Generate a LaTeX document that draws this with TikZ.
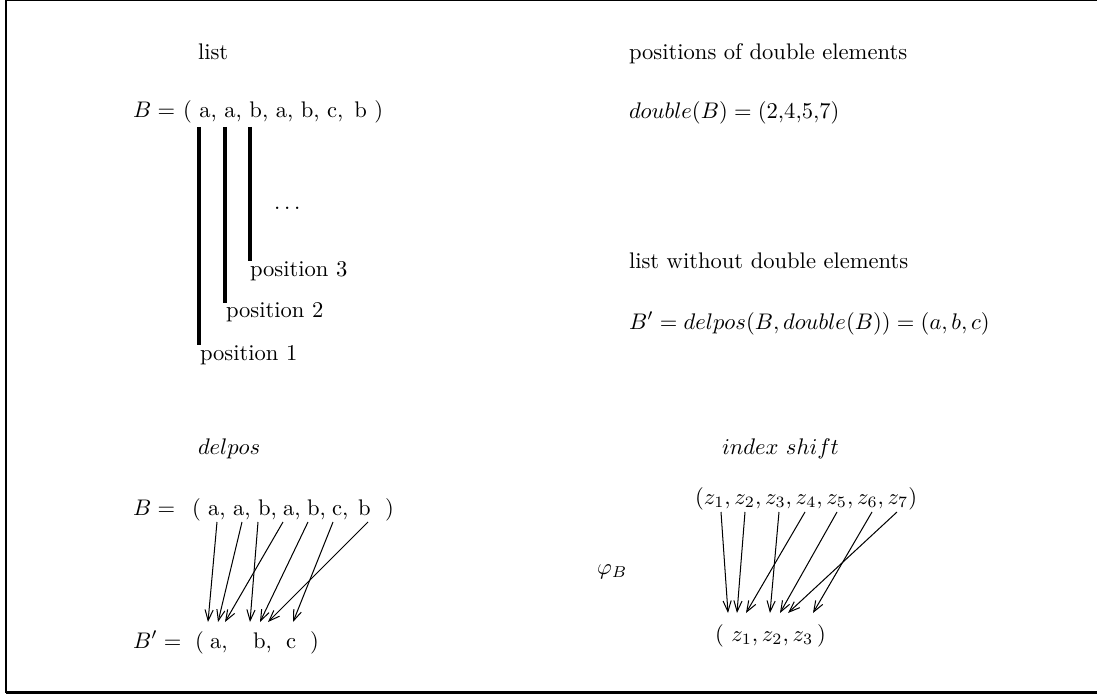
\documentclass[tikz,border=0pt]{standalone}
\usetikzlibrary{arrows.meta}
\begin{document}
\begin{tikzpicture}[x=0.443pt,y=-0.443pt,
  txt/.style={inner sep=0pt,outer sep=0pt,anchor=base west},
  bar/.style={line width=1.4pt},
  arr/.style={line width=0.45pt,-{Straight Barb[length=4.8pt,width=3.6pt]}}]
\useasboundingbox (0,0) rectangle (1097,696);
% frame
\draw[line width=0.5pt] (6,0.5) -- (1097,0.5);
\draw[line width=1.1pt] (6,0) -- (6,693);
\draw[line width=1.3pt] (6,692.5) -- (1097,692.5);

% ---------- top left ----------
\node[txt] (list) at (198,60) {list};
\node[txt] (Beq) at (133,118) {$B=$};
\node[txt] (Blist) at (183,118) {( a, a, b, a, b, c,\hspace{1.5pt} b\ )};
\coordinate (t1) at (199,127);
\coordinate (t2) at (225,127);
\coordinate (t3) at (250,127);
\node[txt] (p3) at (250,276) {position 3};
\node[txt] (p2) at (226,318) {position 2};
\node[txt] (p1) at (200,360) {position 1};
\node[txt] (dots) at (274,210) {$\ldots$};
\draw[bar] (t1) -- (p1.north west -| t1);
\draw[bar] (t2) -- (p2.north west -| t2);
\draw[bar] (t3) -- (p3.north west -| t3);

% ---------- top right ----------
\node[txt] (posd) at (629,60) {positions of double elements};
\node[txt] (dbl) at (629,119) {$double(B)=(2{,}4{,}5{,}7)$};
\node[txt] (lwd) at (629,269) {list without double elements};
\node[txt] (res) at (629,329) {$B'=delpos(B,double(B))=(a,b,c)$};

% ---------- bottom left ----------
\node[txt] (dp) at (198,454) {$delpos$};
\node[txt] (Bl) at (133,515) {$B=$};
\node[txt] (lo) at (192,515) {(};
\node[txt] (e1) at (208,515) {a,};
\node[txt] (e2) at (233,515) {a,};
\node[txt] (e3) at (258,515) {b,};
\node[txt] (e4) at (283,515) {a,};
\node[txt] (e5) at (307,515) {b,};
\node[txt] (e6) at (332,515) {c,};
\node[txt] (e7) at (358,515) {b};
\node[txt] (lc) at (385,515) {)};
\node[txt] (Bp) at (133,648) {$B'=$};
\node[txt] (ro) at (195,648) {(};
\node[txt] (r1) at (210,648) {a,};
\node[txt] (r2) at (253,648) {b,};
\node[txt] (r3) at (286,648) {c};
\node[txt] (rc) at (310,648) {)};
\foreach \n/\x in {1/217,2/242,3/258,4/283,5/308,6/333,7/368}
  \coordinate (s\n) at (\x,522);
\foreach \n/\x in {1/208,2/218,3/225,4/250,5/260,6/268,7/293}
  \coordinate (d\n) at (\x,622);
\draw[arr] (s1) -- (d1);
\draw[arr] (s2) -- (d2);
\draw[arr] (s3) -- (d4);
\draw[arr] (s4) -- (d3);
\draw[arr] (s5) -- (d5);
\draw[arr] (s6) -- (d7);
\draw[arr] (s7) -- (d6);

% ---------- bottom right ----------
\node[txt] (is) at (722,454) {$index\ shift$};
\node[txt] (phi) at (597,574) {$\varphi_B$};
\node[txt] (zt) at (695,504) {$(z_1,z_2,z_3,z_4,z_5,z_6,z_7)$};
\node[txt] (zb) at (715,641) {$(\ z_1,z_2,z_3\,)$};
\foreach \n/\x in {1/721,2/745,3/779,4/805,5/837,6/872,7/897}
  \coordinate (u\n) at (\x,512);
\foreach \n/\x in {1/728,2/737,3/746,4/770,5/780,6/788,7/813}
  \coordinate (v\n) at (\x,613);
\draw[arr] (u1) -- (v1);
\draw[arr] (u2) -- (v2);
\draw[arr] (u3) -- (v4);
\draw[arr] (u4) -- (v3);
\draw[arr] (u5) -- (v5);
\draw[arr] (u6) -- (v7);
\draw[arr] (u7) -- (v6);
\end{tikzpicture}
\end{document}
